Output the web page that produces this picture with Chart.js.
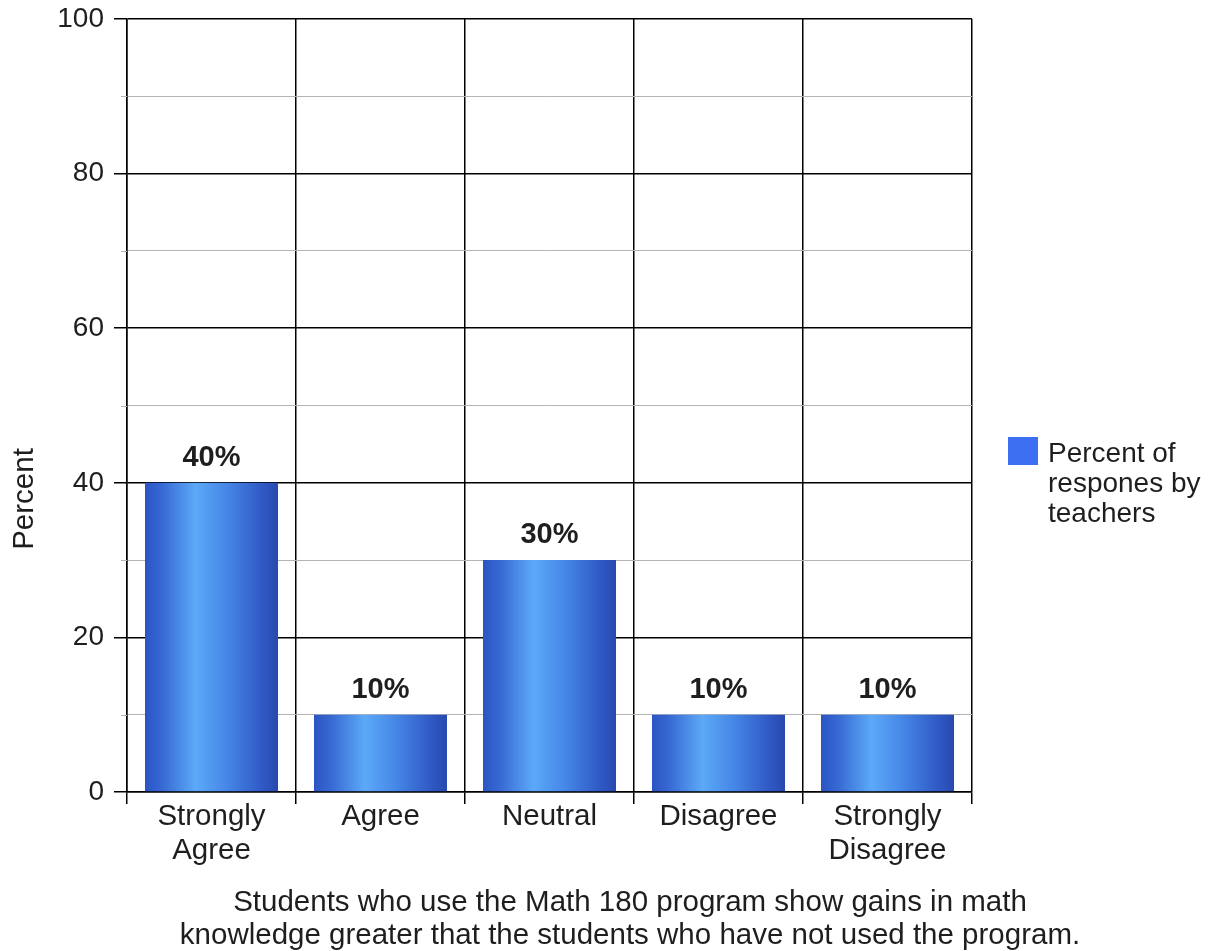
<!DOCTYPE html>
<html>
<head>
<meta charset="utf-8">
<script src="https://cdn.jsdelivr.net/npm/chart.js@4.4.1/dist/chart.umd.min.js"></script>
<style>
  html, body { margin: 0; padding: 0; background: #ffffff; }
  #wrap { width: 1213px; height: 951px; }
</style>
</head>
<body>
<div id="wrap"><canvas id="chart" width="1213" height="951"></canvas></div>
<script>
// Survey responses (percent of teachers)
const categories = [['Strongly', 'Agree'], ['Agree'], ['Neutral'], ['Disagree'], ['Strongly', 'Disagree']];
const percentValues = [40, 10, 30, 10, 10];
const seriesLabelLines = ['Percent of', 'respones by', 'teachers'];
const yTickValues = [0, 20, 40, 60, 80, 100];
const yAxisTitle = 'Percent';
const captionLines = [
  'Students who use the Math 180 program show gains in math',
  'knowledge greater that the students who have not used the program.'
];

const FONT = '"Liberation Sans", Arial, Helvetica, sans-serif';
const TEXT = '#1e1e1e';
const BAR_FRACTION = 0.787;

// Horizontal "cylinder" shading for each bar, built from the x scale
function barGradient(context) {
  const chart = context.chart;
  const x = chart.scales && chart.scales.x;
  if (!x || !chart.chartArea || context.dataIndex === undefined) return '#3d6ff2';
  const cx = x.getPixelForValue(context.dataIndex);
  const half = (x.width / categories.length) * BAR_FRACTION / 2;
  if (!isFinite(cx) || !isFinite(half) || half <= 0) return '#3d6ff2';
  const g = chart.ctx.createLinearGradient(cx - half, 0, cx + half, 0);
  g.addColorStop(0.00, '#2b55c4');
  g.addColorStop(0.12, '#3667d2');
  g.addColorStop(0.38, '#5ca9f8');
  g.addColorStop(0.62, '#4586e6');
  g.addColorStop(0.88, '#3059c6');
  g.addColorStop(1.00, '#2849ad');
  return g;
}

// Short grey stubs left of the axis for the 10-unit lines
const minorStubs = {
  id: 'minorStubs',
  beforeDatasetsDraw(chart) {
    const { ctx, scales: { y }, chartArea } = chart;
    ctx.save();
    ctx.strokeStyle = '#b4b4b4';
    ctx.lineWidth = 1;
    y.ticks.forEach(t => {
      if (t.value % 20 !== 0) {
        const py = Math.round(y.getPixelForValue(t.value)) + 0.5;
        ctx.beginPath();
        ctx.moveTo(chartArea.left - 6, py);
        ctx.lineTo(chartArea.left, py);
        ctx.stroke();
      }
    });
    ctx.restore();
  }
};

// Value labels above bars, legend at the right, axis title and caption
const annotations = {
  id: 'annotations',
  afterDraw(chart) {
    const { ctx, chartArea } = chart;
    const meta = chart.getDatasetMeta(0);
    ctx.save();
    ctx.fillStyle = TEXT;

    // value labels
    ctx.font = 'bold 29px ' + FONT;
    ctx.textAlign = 'center';
    ctx.textBaseline = 'alphabetic';
    meta.data.forEach((bar, i) => {
      ctx.fillText(percentValues[i] + '%', bar.x, bar.y - 17);
    });

    // legend
    const lx = chartArea.right + 36;
    const ly = 437;
    ctx.fillStyle = '#3d6ff2';
    ctx.fillRect(lx, ly, 30, 28);
    ctx.fillStyle = TEXT;
    ctx.font = '28px ' + FONT;
    ctx.textAlign = 'left';
    seriesLabelLines.forEach((line, i) => {
      ctx.fillText(line, lx + 40, ly + 25 + i * 30);
    });

    // y axis title
    ctx.save();
    ctx.translate(25, 499);
    ctx.rotate(-Math.PI / 2);
    ctx.textAlign = 'center';
    ctx.textBaseline = 'middle';
    ctx.font = '29.5px ' + FONT;
    ctx.fillText(yAxisTitle, 0, 0);
    ctx.restore();

    // caption
    ctx.font = '29.5px ' + FONT;
    ctx.textAlign = 'center';
    ctx.textBaseline = 'middle';
    captionLines.forEach((line, i) => {
      ctx.fillText(line, 630, 903 + i * 33);
    });
    ctx.restore();
  }
};

new Chart(document.getElementById('chart'), {
  type: 'bar',
  data: {
    labels: categories,
    datasets: [{
      label: seriesLabelLines.join(' '),
      data: percentValues,
      backgroundColor: barGradient,
      borderWidth: 0,
      categoryPercentage: 1.0,
      barPercentage: BAR_FRACTION
    }]
  },
  options: {
    responsive: false,
    animation: false,
    devicePixelRatio: 1,
    layout: { padding: { left: 0, right: 241, top: 19, bottom: 0 } },
    plugins: {
      legend: { display: false },
      tooltip: { enabled: false },
      title: { display: false }
    },
    scales: {
      x: {
        offset: true,
        grid: {
          offset: true,
          color: '#000000',
          lineWidth: 1.5,
          tickLength: 12,
          tickColor: '#000000'
        },
        border: { color: '#000000', width: 1.5 },
        ticks: {
          color: TEXT,
          font: { family: FONT, size: 29.5, lineHeight: 1.16 },
          padding: -4,
          maxRotation: 0,
          autoSkip: false
        },
        afterFit(scale) {
          scale.height = 951 - 792;
          scale.paddingLeft = 0;
          scale.paddingRight = 0;
        }
      },
      y: {
        min: 0,
        max: 100,
        ticks: {
          stepSize: 10,
          color: TEXT,
          font: { family: FONT, size: 28 },
          padding: 10,
          callback: v => (yTickValues.includes(v) ? String(v) : '')
        },
        grid: {
          color: ctx => (ctx.tick && ctx.tick.value % 20 === 0 ? '#000000' : '#b4b4b4'),
          lineWidth: ctx => (ctx.tick && ctx.tick.value % 20 === 0 ? 1.5 : 1),
          tickLength: 13,
          tickColor: ctx => (ctx.tick && ctx.tick.value % 20 === 0 ? '#000000' : 'rgba(0,0,0,0)')
        },
        border: { color: '#000000', width: 1.5 },
        afterFit(scale) {
          scale.width = 127;
          scale.paddingTop = 0;
          scale.paddingBottom = 0;
        }
      }
    }
  },
  plugins: [minorStubs, annotations]
});
</script>
</body>
</html>
